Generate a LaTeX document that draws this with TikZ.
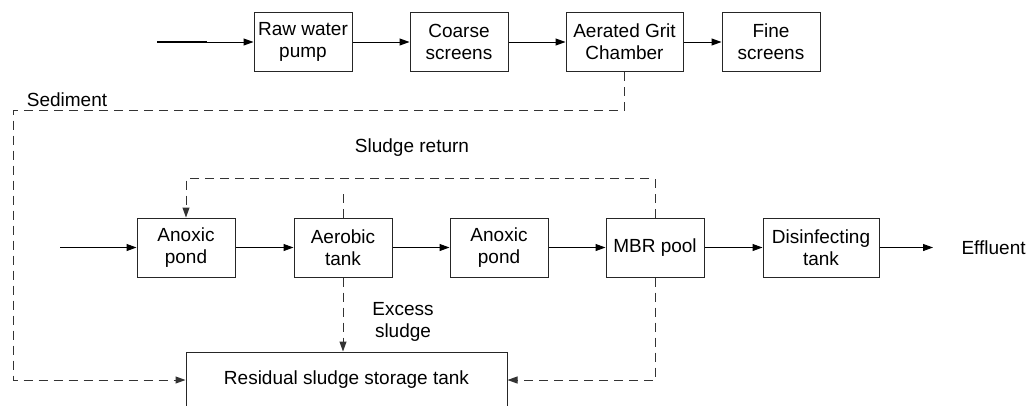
\documentclass[tikz,border=0pt]{standalone}
\usepackage{fontspec}
\setmainfont{Liberation Sans}
\usetikzlibrary{arrows.meta}
\usetikzlibrary{positioning}

\begin{document}
\begin{tikzpicture}[->,>={Triangle[length=10pt,width=7pt]},x=1pt,y=-1pt,node distance = 57pt,line width=1pt,
  font=\fontsize{19}{22}\selectfont]
\tikzstyle{unit}=[draw=black!85,align=center,inner sep=0pt,minimum width=98pt,minimum height=59pt]
\tikzstyle{back}=[draw=black!80,dash pattern=on 9pt off 6pt]
\useasboundingbox (0,0) rectangle (1027,405);
% pretreatment line
\coordinate	(in1)	at (157,42);
\node[unit]	(pump)	at (303,42)					{Raw water\\pump};
\node[unit]	(coarse)	[right= of pump]			{Coarse\\screens};
\node[unit,minimum width=117pt]	(grit)	[right= of coarse]	{Aerated Grit\\Chamber};
\node[unit]	(fine)	[right=38pt of grit]		{Fine\\screens};
% biological line
\coordinate	(in2)	at (60,247.5);
\node[unit]	(anox1)	at (186,247.5)				{Anoxic\\pond};
\node[unit]	(aero)	[right=58pt of anox1]		{Aerobic\\tank};
\node[unit]	(anox2)	[right= of aero]			{Anoxic\\pond};
\node[unit]	(mbr)	[right= of anox2]			{MBR pool};
\node[unit,minimum width=116pt]	(dis)	[right=58pt of mbr]	{Disinfecting\\tank};
\coordinate	(out)	at (933,247.5);
\node[anchor=west,inner sep=0pt]	(eff)	[right=28pt of out]	{Effluent};
\node[unit,minimum width=321pt,minimum height=56pt]	(res)	at (346.5,380)	{Residual sludge storage tank};
% labels
\node[inner sep=0pt]	(sed)	at (67,100)		{Sediment};
\node[inner sep=0pt]	(ret)	at (412,148)	{Sludge return};
\node[align=center,inner sep=0pt]	(exc)	at (403,322)	{Excess\\sludge};
\path(in1)		edge	node			{}		(pump)
     (pump)		edge	node			{}		(coarse)
     (coarse)	edge	node			{}		(grit)
     (grit)		edge	node			{}		(fine)
     (in2)		edge	node			{}		(anox1)
     (anox1)	edge	node			{}		(aero)
     (aero)		edge	node			{}		(anox2)
     (anox2)	edge	node			{}		(mbr)
     (mbr)		edge	node			{}		(dis)
     (dis)		edge	node			{}		(out);
\draw[-,line width=2pt] (in1) -- ++(50,0);
% sludge lines
\draw[back] (grit.south) |- (13,110) |- (res.west);
\draw[back] (mbr.north) -- ++(0,-39) -| (anox1.north);
\draw[back,-] (aero.north) -- ++(0,-26);
\draw[back] (aero.south) -- (aero.south |- res.north);
\draw[back] (mbr.south) |- (res.east);
\end{tikzpicture}
\end{document}
